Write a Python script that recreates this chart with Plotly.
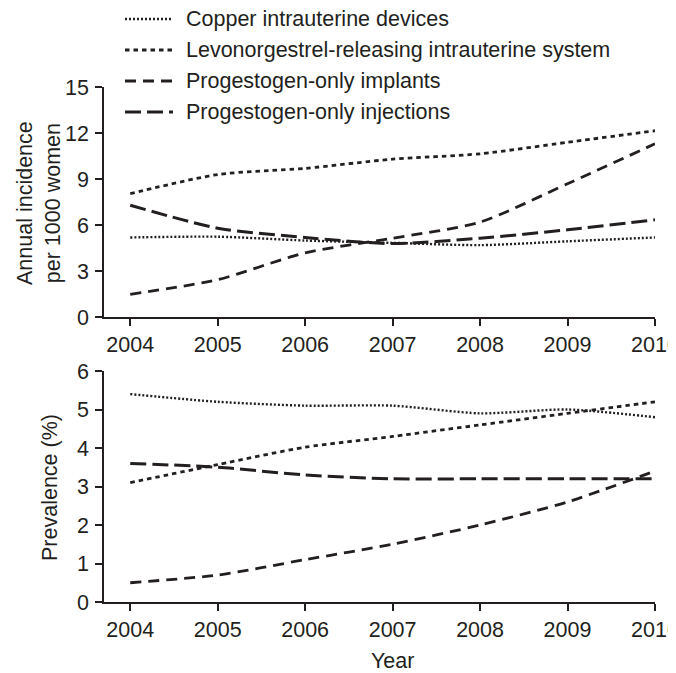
import plotly.graph_objects as go
from plotly.subplots import make_subplots

years = [2004, 2005, 2006, 2007, 2008, 2009, 2010]
series_names = [
    "Copper intrauterine devices",
    "Levonorgestrel-releasing intrauterine system",
    "Progestogen-only implants",
    "Progestogen-only injections",
]
# Annual incidence per 1000 women
incidence_copper = [5.2, 5.25, 5.0, 4.85, 4.7, 4.95, 5.2]
incidence_lng = [8.05, 9.3, 9.7, 10.3, 10.65, 11.4, 12.15]
incidence_implants = [1.5, 2.45, 4.2, 5.15, 6.2, 8.7, 11.3]
incidence_injections = [7.3, 5.8, 5.2, 4.8, 5.15, 5.7, 6.35]
# Prevalence (%)
prevalence_copper = [5.4, 5.2, 5.1, 5.1, 4.9, 5.0, 4.8]
prevalence_lng = [3.1, 3.57, 4.02, 4.3, 4.6, 4.9, 5.2]
prevalence_implants = [0.5, 0.7, 1.1, 1.5, 2.0, 2.6, 3.4]
prevalence_injections = [3.6, 3.5, 3.3, 3.2, 3.2, 3.2, 3.2]

incidence_ticks = [0, 3, 6, 9, 12, 15]
prevalence_ticks = [0, 1, 2, 3, 4, 5, 6]

ink = "#231f20"
dashes = ["2px,2px", "4.5px,4px", "11px,7px", "16px,6px"]
widths = [2.4, 2.8, 2.8, 3.0]
font_family = "Liberation Sans, Arial, sans-serif"
fsize = 21.5

# the page body has an 8px margin; the figure is offset so it lines up with the window
OFF = 8
W, H = 676 - OFF, 673 - OFF
ML, MR, MT, MB = 104 - OFF, 21, 87 - OFF, 71
PW, PH = W - ML - MR, H - MT - MB

fig = make_subplots(rows=2, cols=1, vertical_spacing=0.1)

inc = [incidence_copper, incidence_lng, incidence_implants, incidence_injections]
prev = [prevalence_copper, prevalence_lng, prevalence_implants, prevalence_injections]

for i, name in enumerate(series_names):
    style = dict(color=ink, width=widths[i], dash=dashes[i], shape="spline", smoothing=0.7)
    fig.add_trace(go.Scatter(x=years, y=inc[i], name=name, mode="lines",
                             line=style, showlegend=False), row=1, col=1)
    fig.add_trace(go.Scatter(x=years, y=prev[i], name=name, mode="lines",
                             line=style, showlegend=False), row=2, col=1)

axis_common = dict(
    showline=True, linecolor=ink, linewidth=1.5,
    ticks="outside", ticklen=7, tickwidth=1.5, tickcolor=ink,
    showgrid=False, zeroline=False, automargin=False,
    tickfont=dict(family=font_family, size=fsize, color=ink),
)

fig.update_xaxes(range=[2003.7, 2010], tickvals=years, ticktext=[str(y) for y in years],
                 ticklabeloverflow="allow", **axis_common)
fig.update_yaxes(**axis_common, ticklabelstandoff=2)
fig.update_yaxes(range=[0, 15], tickvals=incidence_ticks, row=1, col=1)
fig.update_yaxes(range=[0, 6], tickvals=prevalence_ticks, row=2, col=1)

# helpers: window pixel -> paper fraction
def px_x(px):
    return (px - OFF - ML) / PW

def px_y(py):
    return (H - MB - (py - OFF)) / PH

# manual legend (line samples + labels), above the top panel
legend_rows = [19, 50, 81, 112]
shapes = []
annotations = []
for i, name in enumerate(series_names):
    yy = px_y(legend_rows[i])
    shapes.append(dict(type="line", xref="paper", yref="paper",
                       x0=px_x(125), x1=px_x(173), y0=yy, y1=yy,
                       line=dict(color=ink, width=widths[i], dash=dashes[i])))
    annotations.append(dict(text=name, xref="paper", yref="paper",
                            x=px_x(184), y=yy, xanchor="left", yanchor="middle",
                            showarrow=False,
                            font=dict(family=font_family, size=fsize, color=ink)))

# axis titles
annotations.append(dict(text="Annual incidence<br>per 1000 women", textangle=-90,
                        xref="paper", yref="paper", x=px_x(39), y=px_y(203),
                        xanchor="center", yanchor="middle", showarrow=False,
                        font=dict(family=font_family, size=fsize, color=ink)))
annotations.append(dict(text="Prevalence (%)", textangle=-90,
                        xref="paper", yref="paper", x=px_x(50), y=px_y(488),
                        xanchor="center", yanchor="middle", showarrow=False,
                        font=dict(family=font_family, size=fsize, color=ink)))
annotations.append(dict(text="Year", x=2007, xref="x2", y=px_y(661), yref="paper",
                        showarrow=False, yanchor="middle",
                        font=dict(family=font_family, size=fsize, color=ink)))

fig.update_layout(
    width=W, height=H,
    margin=dict(l=ML, r=MR, t=MT, b=MB, autoexpand=False),
    paper_bgcolor="white", plot_bgcolor="white",
    font=dict(family=font_family, size=fsize, color=ink),
    yaxis=dict(domain=[px_y(317.3), 1.0]),
    yaxis2=dict(domain=[0.0, px_y(371)]),
    showlegend=False,
    shapes=shapes,
    annotations=annotations,
)

fig.write_html("out.html")
